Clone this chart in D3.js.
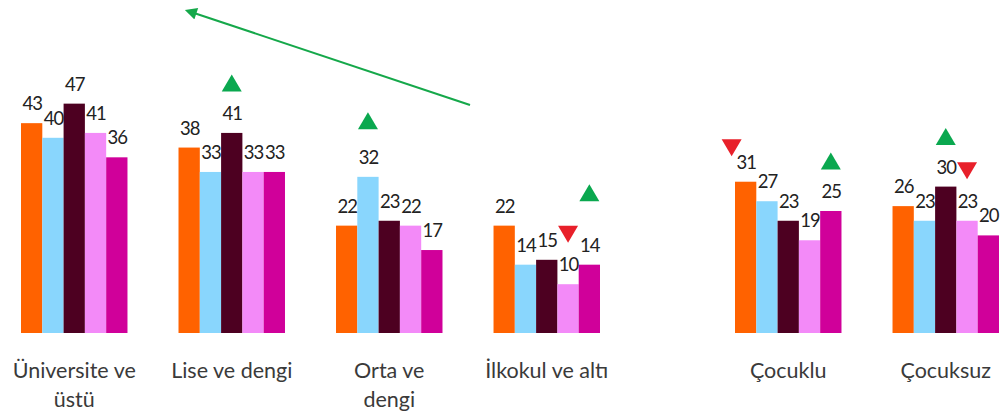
<!DOCTYPE html>
<html>
<head>
    <title>Grouped bars</title>
    <script src="https://d3js.org/d3.v7.min.js"></script>
    <style>
        body { margin: 0; background: #fff; }
        text { font-family: Lato, "Open Sans", sans-serif; }
        text.val { letter-spacing: -1px; }
    </style>
</head>
<body>
<script>
// categories: first panel is education, second is children
const eduGroups = ['Üniversite ve üstü', 'Lise ve dengi', 'Orta ve dengi', 'İlkokul ve altı'];
const kidGroups = ['Çocuklu', 'Çocuksuz'];
const series = ['s1', 's2', 's3', 's4', 's5'];
const colors = ['#ff6200', '#89d6fd', '#4d0021', '#f38af8', '#d0009a'];

// values per group, one per series
const values = {
    'Üniversite ve üstü': [43, 40, 47, 41, 36],
    'Lise ve dengi': [38, 33, 41, 33, 33],
    'Orta ve dengi': [22, 32, 23, 22, 17],
    'İlkokul ve altı': [22, 14, 15, 10, 14],
    'Çocuklu': [31, 27, 23, 19, 25],
    'Çocuksuz': [26, 23, 30, 23, 20]
};

// significant change markers: group, series index, direction
const markers = [
    ['Lise ve dengi', 2, 'up'],
    ['Orta ve dengi', 1, 'up'],
    ['İlkokul ve altı', 3, 'down'],
    ['İlkokul ve altı', 4, 'up'],
    ['Çocuklu', 0, 'down'],
    ['Çocuklu', 4, 'up'],
    ['Çocuksuz', 2, 'up'],
    ['Çocuksuz', 3, 'down']
];

const width = 1005, height = 415;
const baseline = 333;

const svg = d3.select('body')
    .append('svg')
    .attr('width', width)
    .attr('height', height);

const x1 = d3.scaleBand().domain(eduGroups).range([21, 600]).paddingInner(0.324);
const x2 = d3.scaleBand().domain(kidGroups).range([735, 999]).paddingInner(0.324);
const groupX = g => eduGroups.includes(g) ? x1(g) : x2(g);

const xInner = d3.scaleBand().domain(series).range([0, x1.bandwidth()]).padding(0);

const y = d3.scaleLinear().domain([0, 50]).range([baseline, baseline - 50 * 4.88]);

const allGroups = eduGroups.concat(kidGroups);

const g = svg.selectAll('g.group')
    .data(allGroups)
    .enter()
    .append('g')
    .attr('class', 'group')
    .attr('transform', d => `translate(${groupX(d)},0)`);

g.selectAll('rect')
    .data(d => values[d].map((v, i) => ({ v, s: series[i], i })))
    .enter()
    .append('rect')
    .attr('x', d => xInner(d.s))
    .attr('y', d => y(d.v))
    .attr('width', xInner.bandwidth())
    .attr('height', d => baseline - y(d.v))
    .attr('fill', d => colors[d.i]);

g.selectAll('text.val')
    .data(d => values[d].map((v, i) => ({ v, s: series[i] })))
    .enter()
    .append('text')
    .attr('class', 'val')
    .attr('x', d => xInner(d.s) + xInner.bandwidth() / 2 + 0.5)
    .attr('y', d => y(d.v) - 13)
    .attr('text-anchor', 'middle')
    .attr('font-size', 18.5)
    .attr('fill', '#222')
    .text(d => d.v);

// category labels, wrapped like the original
const labelLines = {
    'Üniversite ve üstü': ['Üniversite ve', 'üstü'],
    'Orta ve dengi': ['Orta ve', 'dengi']
};

g.append('text')
    .attr('x', x1.bandwidth() / 2)
    .attr('y', 378)
    .attr('text-anchor', 'middle')
    .attr('font-size', 21.5)
    .attr('fill', '#3a3a3a')
    .each(function (d) {
        const lines = labelLines[d] || [d];
        d3.select(this).selectAll('tspan')
            .data(lines)
            .enter()
            .append('tspan')
            .attr('x', x1.bandwidth() / 2)
            .attr('dy', (l, i) => i === 0 ? 0 : 29)
            .text(l => l);
    });

// small placement tweaks for a couple of markers
const nudge = { 'İlkokul ve altı-4': [0, -22], 'Çocuklu-0': [-14, 16], 'Orta ve dengi-1': [0, -6] };

const tri = 'M-10,8.5 L10,8.5 L0,-8.5 Z';
markers.forEach(([grp, si, dir]) => {
    const n = nudge[grp + '-' + si] || [0, 0];
    const cx = groupX(grp) + xInner(series[si]) + xInner.bandwidth() / 2 + n[0];
    const cy = y(values[grp][si]) - 50 + n[1];
    svg.append('path')
        .attr('d', tri)
        .attr('transform', `translate(${cx},${cy})${dir === 'down' ? ' rotate(180)' : ''}`)
        .attr('fill', dir === 'up' ? '#0aa84f' : '#e8202a');
});

// trend arrow
svg.append('defs').append('marker')
    .attr('id', 'arrow')
    .attr('viewBox', '0 0 10 10')
    .attr('refX', 2)
    .attr('refY', 5)
    .attr('markerWidth', 7)
    .attr('markerHeight', 6)
    .attr('orient', 'auto')
    .append('path')
    .attr('d', 'M0,0 L10,5 L0,10 Z')
    .attr('fill', '#15a84a');

svg.append('line')
    .attr('x1', 470)
    .attr('y1', 105)
    .attr('x2', 194)
    .attr('y2', 13)
    .attr('stroke', '#15a84a')
    .attr('stroke-width', 2)
    .attr('marker-end', 'url(#arrow)');
</script>
</body>
</html>
